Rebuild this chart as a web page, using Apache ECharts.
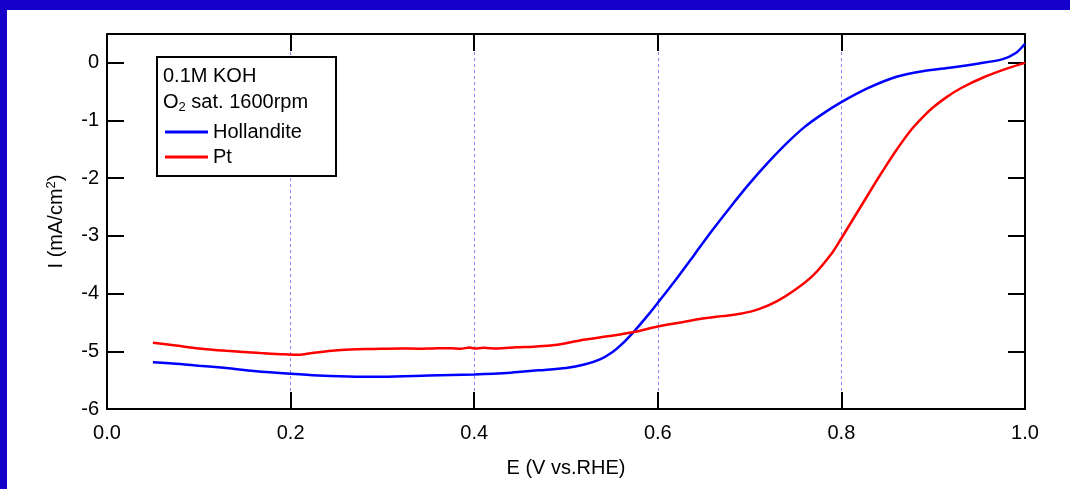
<!DOCTYPE html>
<html>
<head>
<meta charset="utf-8">
<script src="https://cdn.jsdelivr.net/npm/echarts@6/dist/echarts.min.js"></script>
<style>
  html, body { margin: 0; padding: 0; background: #fff; }
  #chart { width: 1070px; height: 489px; }
</style>
</head>
<body>
<div id="chart"></div>
<script>
// potential E (V vs. RHE) and current I (mA/cm2)
const hollanditeE = [0.05, 0.08, 0.10, 0.13, 0.16, 0.20, 0.23, 0.27, 0.30, 0.35, 0.40, 0.44, 0.47, 0.50, 0.52, 0.537, 0.55, 0.56, 0.575, 0.59, 0.60, 0.62, 0.64, 0.66, 0.68, 0.70, 0.72, 0.74, 0.76, 0.78, 0.80, 0.83, 0.86, 0.89, 0.92, 0.95, 0.975, 0.99, 1.0]
const hollanditeI = [-5.19, -5.22, -5.25, -5.29, -5.34, -5.39, -5.42, -5.44, -5.44, -5.42, -5.40, -5.37, -5.33, -5.29, -5.23, -5.14, -5.02, -4.89, -4.64, -4.36, -4.16, -3.75, -3.32, -2.89, -2.48, -2.09, -1.73, -1.40, -1.11, -0.88, -0.68, -0.43, -0.24, -0.14, -0.08, -0.01, 0.06, 0.17, 0.33]

const ptE = [0.05, 0.075, 0.10, 0.13, 0.167, 0.19, 0.207, 0.215, 0.228, 0.245, 0.265, 0.29, 0.32, 0.34, 0.355, 0.375, 0.385, 0.395, 0.40, 0.41, 0.425, 0.446, 0.465, 0.483, 0.50, 0.519, 0.545, 0.573, 0.60, 0.625, 0.646, 0.67, 0.69, 0.71, 0.73, 0.75, 0.77, 0.79, 0.80, 0.81, 0.82, 0.83, 0.84, 0.85, 0.86, 0.875, 0.89, 0.90, 0.915, 0.93, 0.955, 0.98, 1.0]
const ptI = [-4.85, -4.90, -4.95, -4.99, -5.03, -5.05, -5.06, -5.05, -5.02, -4.99, -4.97, -4.96, -4.95, -4.955, -4.95, -4.945, -4.955, -4.935, -4.95, -4.94, -4.95, -4.93, -4.92, -4.90, -4.86, -4.80, -4.74, -4.67, -4.57, -4.50, -4.44, -4.39, -4.35, -4.27, -4.13, -3.93, -3.67, -3.29, -3.04, -2.78, -2.52, -2.26, -2.00, -1.75, -1.51, -1.18, -0.92, -0.77, -0.59, -0.44, -0.25, -0.10, 0.0]

const seriesNames = ['Hollandite', 'Pt']
const seriesColors = ['#0000ff', '#ff0000']
const noteLines = ['0.1M KOH', '{t|O}{sub|2}{t| sat. 1600rpm}']

const fontFamily = 'Arial, "Liberation Sans", Helvetica, sans-serif'
const pair = (xs, ys) => xs.map((x, i) => [x, ys[i]])

const chart = echarts.init(document.getElementById('chart'))

const tickStyle = { show: true, inside: true, length: 17, lineStyle: { color: '#000', width: 2 } }
const lineStyle = { show: true, onZero: false, lineStyle: { color: '#000', width: 2 } }

const option = {
  animation: false,
  backgroundColor: '#fff',
  grid: { left: 107, right: 45, top: 34, bottom: 80 },
  xAxis: [
    {
      type: 'value',
      min: 0,
      max: 1,
      interval: 0.2,
      position: 'bottom',
      axisLine: lineStyle,
      axisTick: tickStyle,
      axisLabel: {
        margin: 14,
        fontSize: 20,
        color: '#000',
        fontFamily: fontFamily,
        formatter: (v) => v.toFixed(1)
      },
      splitLine: { show: true, lineStyle: { color: '#8888ff', width: 1, type: [3, 3] } },
      name: 'E (V vs.RHE)',
      nameLocation: 'middle',
      nameGap: 49,
      nameTextStyle: { fontSize: 20, color: '#000', fontFamily: fontFamily }
    },
    {
      type: 'value',
      min: 0,
      max: 1,
      interval: 0.2,
      position: 'top',
      axisLine: lineStyle,
      axisTick: tickStyle,
      axisLabel: { show: false },
      splitLine: { show: false }
    }
  ],
  yAxis: [
    {
      type: 'value',
      min: -6,
      max: 0.5,
      interval: 1,
      position: 'left',
      axisLine: lineStyle,
      axisTick: tickStyle,
      axisLabel: {
        margin: 8,
        fontSize: 20,
        color: '#000',
        fontFamily: fontFamily,
        showMaxLabel: false
      },
      splitLine: { show: false },
      name: '{t|I (mA/cm}{sup|2}{t|)}',
      nameLocation: 'middle',
      nameRotate: 90,
      nameGap: 39,
      nameTextStyle: {
        color: '#000',
        fontFamily: fontFamily,
        rich: {
          t: { fontSize: 20, fontFamily: fontFamily, color: '#000' },
          sup: { fontSize: 13, fontFamily: fontFamily, color: '#000', verticalAlign: 'top', padding: [0, 0, 10, 0] }
        }
      }
    },
    {
      type: 'value',
      min: -6,
      max: 0.5,
      interval: 1,
      position: 'right',
      axisLine: lineStyle,
      axisTick: tickStyle,
      axisLabel: { show: false },
      splitLine: { show: false }
    }
  ],
  legend: {
    data: seriesNames,
    orient: 'vertical',
    left: 165,
    top: 122,
    padding: 0,
    itemGap: 5,
    itemWidth: 43,
    itemHeight: 3,
    icon: 'rect',
    textStyle: { fontSize: 20, color: '#000', fontFamily: fontFamily },
    z: 6
  },
  graphic: [
    { type: 'rect', left: 0, top: 0, shape: { width: 1070, height: 10 }, style: { fill: '#1400c8' }, z: 10 },
    { type: 'rect', left: 0, top: 0, shape: { width: 7, height: 489 }, style: { fill: '#1400c8' }, z: 10 },
    {
      type: 'rect',
      shape: { x: 157, y: 57, width: 179, height: 119 },
      style: { fill: '#fff', stroke: '#000', lineWidth: 2 },
      z: 3
    },
    {
      type: 'text',
      x: 163,
      y: 76,
      style: { text: noteLines[0], fontSize: 20, fontFamily: fontFamily, fill: '#000', verticalAlign: 'middle' },
      z: 6
    },
    {
      type: 'text',
      x: 163,
      y: 102,
      style: {
        text: noteLines[1],
        fontFamily: fontFamily,
        fill: '#000',
        verticalAlign: 'middle',
        rich: {
          t: { fontSize: 20, fontFamily: fontFamily, fill: '#000' },
          sub: { fontSize: 13, fontFamily: fontFamily, fill: '#000', verticalAlign: 'bottom', padding: [10, 0, 0, 0] }
        }
      },
      z: 6
    }
  ],
  series: [
    {
      name: seriesNames[0],
      type: 'line',
      data: pair(hollanditeE, hollanditeI),
      showSymbol: false,
      smooth: 0.3,
      color: seriesColors[0],
      lineStyle: { width: 2.5, color: seriesColors[0] }
    },
    {
      name: seriesNames[1],
      type: 'line',
      data: pair(ptE, ptI),
      showSymbol: false,
      smooth: 0.3,
      color: seriesColors[1],
      lineStyle: { width: 2.5, color: seriesColors[1] }
    }
  ]
}

chart.setOption(option)
</script>
</body>
</html>
